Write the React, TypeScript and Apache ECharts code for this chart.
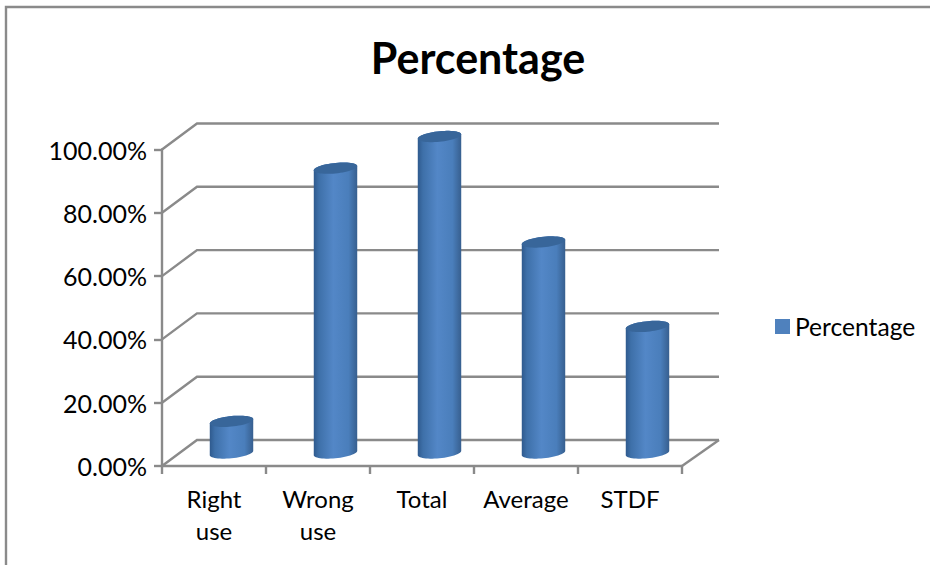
import React, { useEffect, useRef } from "react";
import * as echarts from "echarts";

const seriesName = "Percentage";
const categories = ["Right use", "Wrong use", "Total", "Average", "STDF"];
const categoryLines = ["Right\nuse", "Wrong\nuse", "Total", "Average", "STDF"];
const percentages = [0.1, 0.9, 1.0, 0.6667, 0.4];
const wallTicks = [0, 0.2, 0.4, 0.6, 0.8, 1.0];

const FONT = "Lato";
const AXIS_GRAY = "#8a8a8a";
const LINE_WIDTH = 2.4;
const BLUE = "#4f81bd";
// Oblique offset of the back wall from the front plane, in pixels.
const DEPTH_X = 35;
const DEPTH_Y = 26;
const WALL_OVERHANG = 2;
const WIDTH_RATIO = 0.42;
const TILT_DEG = 6;
const CAP_RATIO = 0.24;
const ARC_STEPS = 28;

// Back-wall grid line: runs up the side wall, then across the back.
const renderWallLine = (params: any, api: any) => {
  const rect = params.coordSys;
  const y = api.coord([0, api.value(1)])[1];
  const left = rect.x;
  const right = rect.x + rect.width + DEPTH_X + WALL_OVERHANG;
  return {
    type: "polyline",
    silent: true,
    shape: {
      points: [
        [left, y],
        [left + DEPTH_X, y - DEPTH_Y],
        [right, y - DEPTH_Y],
      ],
    },
    style: { fill: "none", stroke: AXIS_GRAY, lineWidth: LINE_WIDTH },
  };
};

// Floor edge on the right-hand side.
const renderFloorEdge = (params: any, api: any) => {
  const rect = params.coordSys;
  const y = api.coord([0, 0])[1];
  const x = rect.x + rect.width;
  return {
    type: "line",
    silent: true,
    shape: { x1: x, y1: y, x2: x + DEPTH_X + WALL_OVERHANG, y2: y - DEPTH_Y },
    style: { stroke: AXIS_GRAY, lineWidth: LINE_WIDTH },
  };
};

// Half of a tilted ellipse, starting at its right (lower = true) or left extreme.
const ellipseHalf = (cx: number, cy: number, rx: number, ry: number, lower: boolean) => {
  const rad = (TILT_DEG * Math.PI) / 180;
  const c = Math.cos(rad);
  const s = Math.sin(rad);
  const start = Math.atan2(ry * s, rx * c) + (lower ? 0 : Math.PI);
  const pts: number[][] = [];
  for (let i = 0; i <= ARC_STEPS; i++) {
    const t = start + (Math.PI * i) / ARC_STEPS;
    pts.push([
      cx + rx * Math.cos(t) * c + ry * Math.sin(t) * s,
      cy - rx * Math.cos(t) * s + ry * Math.sin(t) * c,
    ]);
  }
  return pts;
};

// Tilted cylinder standing halfway between the front plane and the back wall.
const renderCylinder = (_params: any, api: any) => {
  const idx = api.value(0);
  const top = api.coord([idx, api.value(1)]);
  const base = api.coord([idx, 0]);
  const rx = (api.size([1, 0])[0] * WIDTH_RATIO) / 2;
  const ry = rx * CAP_RATIO;
  const cx = top[0] + DEPTH_X / 2;
  const topY = top[1] - DEPTH_Y / 2;
  const baseY = base[1] - DEPTH_Y / 2;
  const capUpper = ellipseHalf(cx, topY, rx, ry, false);
  const capLower = ellipseHalf(cx, topY, rx, ry, true);
  const baseLower = ellipseHalf(cx, baseY, rx, ry, true);
  return {
    type: "group",
    children: [
      {
        type: "polygon",
        shape: { points: [...baseLower, ...capUpper] },
        style: {
          fill: new echarts.graphic.LinearGradient(0, 0, 1, 0, [
            { offset: 0, color: "#2f5a8e" },
            { offset: 0.12, color: "#3e70a9" },
            { offset: 0.45, color: "#5387c7" },
            { offset: 0.8, color: "#4a7ebb" },
            { offset: 1, color: "#375f8f" },
          ]),
        },
      },
      {
        type: "polygon",
        shape: { points: [...capLower, ...capUpper] },
        style: { fill: "#38669a" },
      },
    ],
  };
};

export default function App() {
  const ref = useRef<HTMLDivElement>(null);

  useEffect(() => {
    const chart = echarts.init(ref.current!, null, { renderer: "svg" });
    chart.setOption({
      animation: false,
      backgroundColor: "#ffffff",
      textStyle: { fontFamily: FONT, color: "#000" },
      title: {
        text: seriesName,
        left: 473,
        top: 31,
        textAlign: "center",
        textStyle: { fontFamily: FONT, fontSize: 43, fontWeight: "bold", color: "#000" },
      },
      legend: {
        left: 775,
        top: 314,
        itemWidth: 15,
        itemHeight: 15,
        itemGap: 0,
        padding: 0,
        selectedMode: false,
        textStyle: { fontFamily: FONT, fontSize: 24.6, color: "#000" },
        data: [{ name: seriesName, icon: "rect", itemStyle: { color: BLUE } }],
      },
      grid: { left: 162, top: 149.5, right: 248, bottom: 99, containLabel: false },
      xAxis: {
        type: "category",
        data: categories,
        boundaryGap: true,
        axisLine: { lineStyle: { color: AXIS_GRAY, width: LINE_WIDTH } },
        axisTick: { show: true, length: 8, lineStyle: { color: AXIS_GRAY, width: LINE_WIDTH } },
        axisLabel: {
          interval: 0,
          margin: 16,
          fontFamily: FONT,
          fontSize: 24,
          lineHeight: 32,
          color: "#000",
          formatter: (_v: string, i: number) => categoryLines[i],
        },
        splitLine: { show: false },
      },
      yAxis: {
        type: "value",
        min: 0,
        max: 1,
        interval: 0.2,
        axisLine: { show: true, lineStyle: { color: AXIS_GRAY, width: LINE_WIDTH } },
        axisTick: { show: true, length: 8, lineStyle: { color: AXIS_GRAY, width: LINE_WIDTH } },
        axisLabel: {
          margin: 15,
          fontFamily: FONT,
          fontSize: 25,
          color: "#000",
          formatter: (v: number) => `${(v * 100).toFixed(2)}%`,
        },
        splitLine: { show: false },
      },
      graphic: [
        {
          type: "polyline",
          silent: true,
          shape: { points: [[6, 565], [6, 7], [930, 7]] },
          style: { fill: "none", stroke: AXIS_GRAY, lineWidth: LINE_WIDTH },
        },
      ],
      series: [
        {
          type: "custom",
          name: "wall",
          renderItem: renderWallLine,
          data: wallTicks.map((t) => [0, t]),
          encode: { x: 0, y: 1 },
          z: 1,
          silent: true,
        },
        {
          type: "custom",
          name: "floor",
          renderItem: renderFloorEdge,
          data: [[0, 0]],
          encode: { x: 0, y: 1 },
          z: 1,
          silent: true,
        },
        {
          type: "custom",
          name: seriesName,
          renderItem: renderCylinder,
          data: percentages.map((v, i) => [i, v]),
          encode: { x: 0, y: 1 },
          itemStyle: { color: BLUE },
          z: 3,
        },
      ],
    });
    return () => chart.dispose();
  }, []);

  return (
    <div
      ref={ref}
      style={{ position: "fixed", left: 0, top: 0, width: 930, height: 565 }}
    />
  );
}
